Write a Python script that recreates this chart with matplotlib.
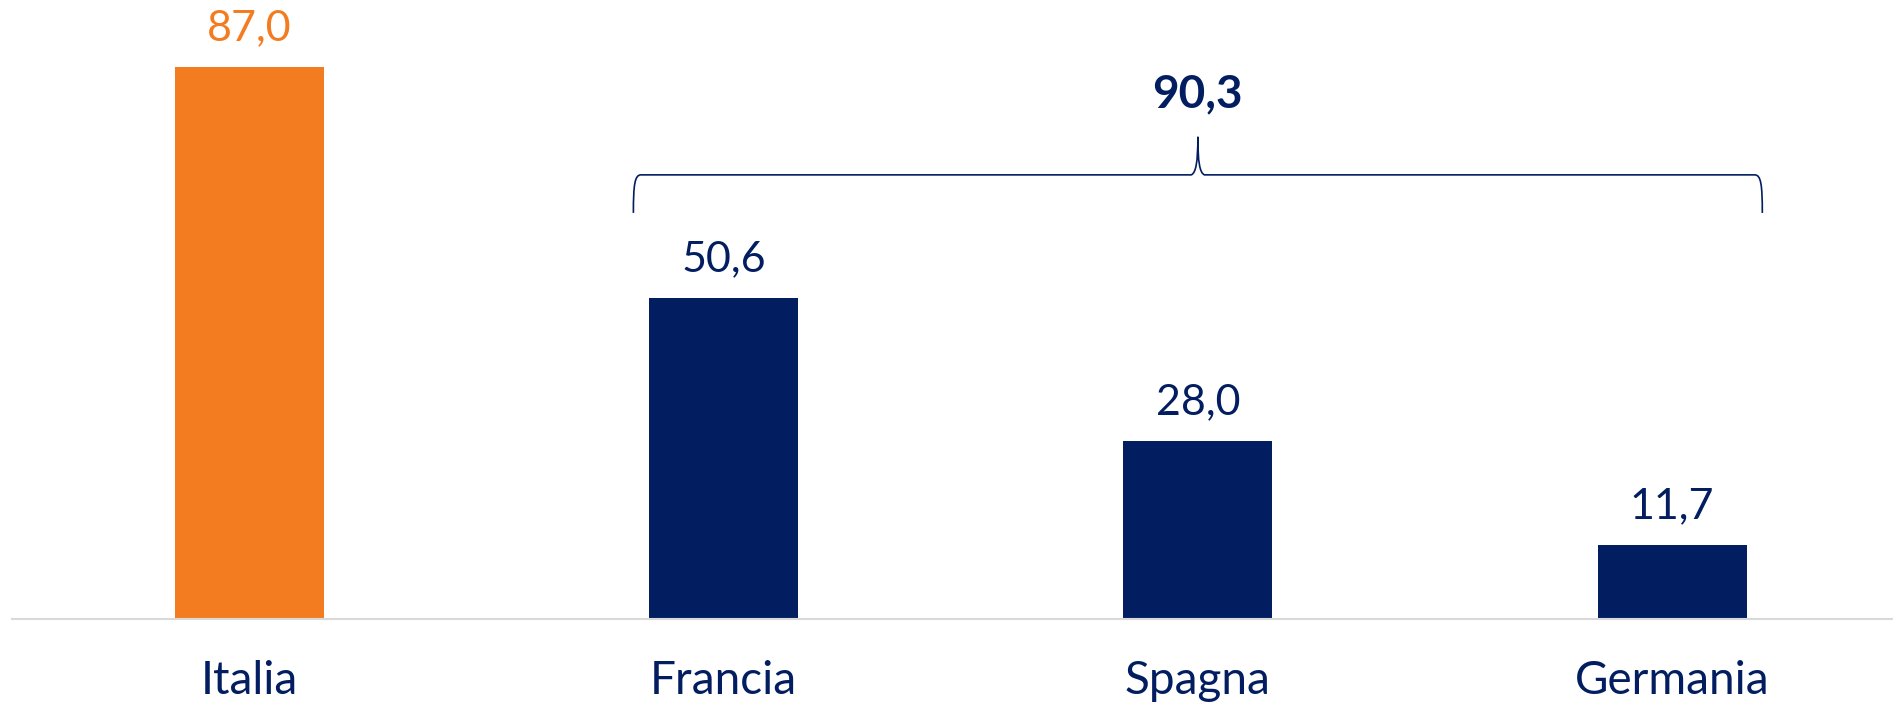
"""Bar chart: Italia vs Francia / Spagna / Germania with a bracket total."""
import matplotlib.pyplot as plt
from matplotlib.path import Path
from matplotlib.patches import PathPatch

plt.rcParams["font.family"] = ["Lato", "DejaVu Sans"]

# --- data ---
categories = ["Italia", "Francia", "Spagna", "Germania"]
values = [87.0, 50.6, 28.0, 11.7]
highlight = "Italia"
group = ["Francia", "Spagna", "Germania"]

ORANGE = "#F47C20"
NAVY = "#021E60"
GREY = "#D9D9D9"


def fmt(v):
    return f"{v:.1f}".replace(".", ",")


fig = plt.figure(figsize=(18.93, 7.07), dpi=100)
ax = fig.add_axes([12 / 1893, 88 / 707, 1 - 12 / 1893, 1 - 88 / 707])

x = list(range(len(categories)))
colors = [ORANGE if c == highlight else NAVY for c in categories]
ax.bar(x, values, width=0.314, color=colors)

# value labels
for xi, v, c in zip(x, values, colors):
    ax.annotate(fmt(v), (xi, v), xytext=(0, 28), textcoords="offset points",
                ha="center", va="center", fontsize=31, color=c)

# category labels under the baseline
for xi, cat in zip(x, categories):
    ax.annotate(cat, (xi, 0), xycoords=("data", "axes fraction"),
                xytext=(0, -45), textcoords="offset points",
                ha="center", va="center", fontsize=33, color=NAVY)

# --- bracket over the group ---
gx = [x[categories.index(g)] for g in group]
xl, xr = min(gx) - 0.19, max(gx) + 0.19
xc = (xl + xr) / 2
yb, yh, yp = 64.0, 70.0, 76.0
dx = 0.016
pw = 0.014
verts = [
    (xl, yb), (xl, 68.5), (xl + 0.003, yh), (xl + dx, yh),
    (xc - pw, yh),
    (xc - 0.004, yh + 0.3), (xc, 72.0), (xc, yp),
    (xc, 72.0), (xc + 0.004, yh + 0.3), (xc + pw, yh),
    (xr - dx, yh),
    (xr - 0.003, yh), (xr, 68.5), (xr, yb),
]
codes = [Path.MOVETO, Path.CURVE4, Path.CURVE4, Path.CURVE4,
         Path.LINETO,
         Path.CURVE4, Path.CURVE4, Path.CURVE4,
         Path.CURVE4, Path.CURVE4, Path.CURVE4,
         Path.LINETO,
         Path.CURVE4, Path.CURVE4, Path.CURVE4]
ax.add_patch(PathPatch(Path(verts, codes), fill=False, edgecolor=NAVY, linewidth=1.2))

total = sum(values[categories.index(g)] for g in group)
ax.text(xc, 82.7, fmt(total), ha="center", va="center", fontsize=33,
        fontweight="bold", color=NAVY)

ax.set_xlim(-0.5, 3.4655)
ax.set_ylim(0, 97.56)
for s in ["top", "left", "right"]:
    ax.spines[s].set_visible(False)
ax.spines["bottom"].set_color(GREY)
ax.spines["bottom"].set_linewidth(1.5)
ax.set_xticks([])
ax.set_yticks([])

fig.savefig("out.png", dpi=100)
